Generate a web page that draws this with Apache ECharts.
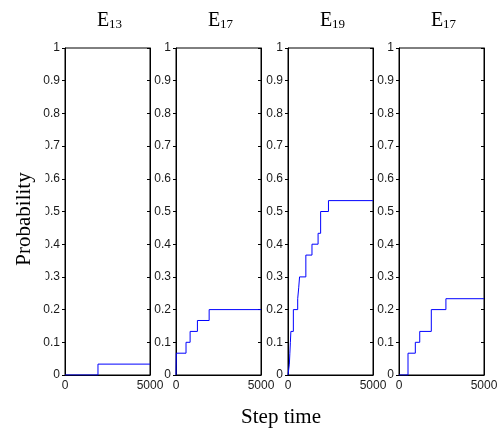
<!DOCTYPE html>
<html>
<head>
<meta charset="utf-8">
<script src="https://cdn.jsdelivr.net/npm/echarts@6/dist/echarts.min.js"></script>
<style>html,body{margin:0;padding:0;background:#fff}#c{width:504px;height:432px}</style>
</head>
<body>
<div id="c"></div>
<script>
// Panel titles (letter + subscript)
var titleMain = ['E', 'E', 'E', 'E'];
var titleSub = ['13', '17', '19', '17'];
// Step-change times and the probability level reached at each time
var times1 = [0, 1940];
var levels1 = [0, 0.0333];
var times2 = [0, 20, 590, 830, 1260, 1950];
var levels2 = [0, 0.0667, 0.1, 0.1333, 0.1667, 0.2];
var times3 = [0, 80, 110, 140, 170, 315, 570, 630, 680, 1050, 1410, 1770, 1920, 2380];
var levels3 = [0, 0.0333, 0.0667, 0.1, 0.1333, 0.2, 0.2333, 0.2667, 0.3, 0.3667, 0.4, 0.4333, 0.5, 0.5333];
var times4 = [0, 530, 960, 1220, 1900, 2760];
var levels4 = [0, 0.0667, 0.1, 0.1333, 0.2, 0.2333];
var xMax = 5000;
var yTickStep = 0.1;
var xLabel = 'Step time';
var yLabel = 'Probability';

var allTimes = [times1, times2, times3, times4];
var allLevels = [levels1, levels2, levels3, levels4];

var lefts = [65, 176, 288, 399];
var W = 85, TOP = 48, H = 327;
var tickFont = {fontFamily: 'Liberation Sans', fontSize: 12, color: '#1a1a1a'};
var serif = 'Liberation Serif';

var grids = [], xAxes = [], yAxes = [], series = [], titles = [];
for (var i = 0; i < 4; i++) {
  grids.push({left: lefts[i], top: TOP, width: W, height: H, show: true, borderColor: '#000', borderWidth: 1, containLabel: false});
  xAxes.push({
    type: 'value', gridIndex: i, min: 0, max: xMax, interval: xMax,
    axisLine: {show: true, lineStyle: {color: '#000', width: 1}},
    axisTick: {show: false}, splitLine: {show: false},
    axisLabel: Object.assign({margin: 5, formatter: function (v) { return String(v); }}, tickFont)
  });
  yAxes.push({
    type: 'value', gridIndex: i, min: 0, max: 1, interval: yTickStep, position: 'left',
    axisLine: {show: true, lineStyle: {color: '#000', width: 1}},
    axisTick: {show: true, inside: false, length: 3, lineStyle: {color: '#000'}},
    splitLine: {show: false},
    axisLabel: Object.assign({margin: 5}, tickFont)
  });
  yAxes.push({
    type: 'value', gridIndex: i, min: 0, max: 1, interval: yTickStep, position: 'right',
    axisLine: {show: true, lineStyle: {color: '#000', width: 1}},
    axisTick: {show: true, inside: true, length: 3, lineStyle: {color: '#000'}},
    splitLine: {show: false}, axisLabel: {show: false}
  });
  var t = allTimes[i], l = allLevels[i], d = [];
  for (var k = 0; k < t.length; k++) d.push([t[k], l[k]]);
  d.push([xMax, l[l.length - 1]]);
  series.push({
    type: 'line', xAxisIndex: i, yAxisIndex: 2 * i, step: 'end', data: d,
    showSymbol: false, symbol: 'none', silent: true, animation: false,
    lineStyle: {color: '#0000ff', width: 1}
  });
  titles.push({
    text: '{e|' + titleMain[i] + '}{s|' + titleSub[i] + '}',
    left: lefts[i] + W / 2 - 3, top: 2, textAlign: 'center',
    textStyle: {
      fontWeight: 'normal',
      rich: {
        e: {fontFamily: serif, fontSize: 20, fontWeight: 'normal', color: '#000', lineHeight: 24, verticalAlign: 'bottom'},
        s: {fontFamily: serif, fontSize: 13, fontWeight: 'normal', color: '#000', lineHeight: 15, verticalAlign: 'bottom'}
      }
    }
  });
}

var chart = echarts.init(document.getElementById('c'), null, {renderer: 'canvas'});
chart.setOption({
  animation: false,
  backgroundColor: '#fff',
  title: titles,
  grid: grids,
  xAxis: xAxes,
  yAxis: yAxes,
  series: series,
  graphic: [
    {type: 'rect', z: 100, shape: {x: 0, y: 125, width: 45.5, height: 168}, style: {fill: '#fff'}},
    {type: 'text', z: 101, x: 24, y: 219, rotation: Math.PI / 2,
     style: {text: yLabel, fontFamily: serif, fontSize: 21, fill: '#000', align: 'center', verticalAlign: 'middle'}},
    {type: 'text', z: 101, x: 281, y: 417,
     style: {text: xLabel, fontFamily: serif, fontSize: 21, fill: '#000', align: 'center', verticalAlign: 'middle'}}
  ]
});
</script>
</body>
</html>
